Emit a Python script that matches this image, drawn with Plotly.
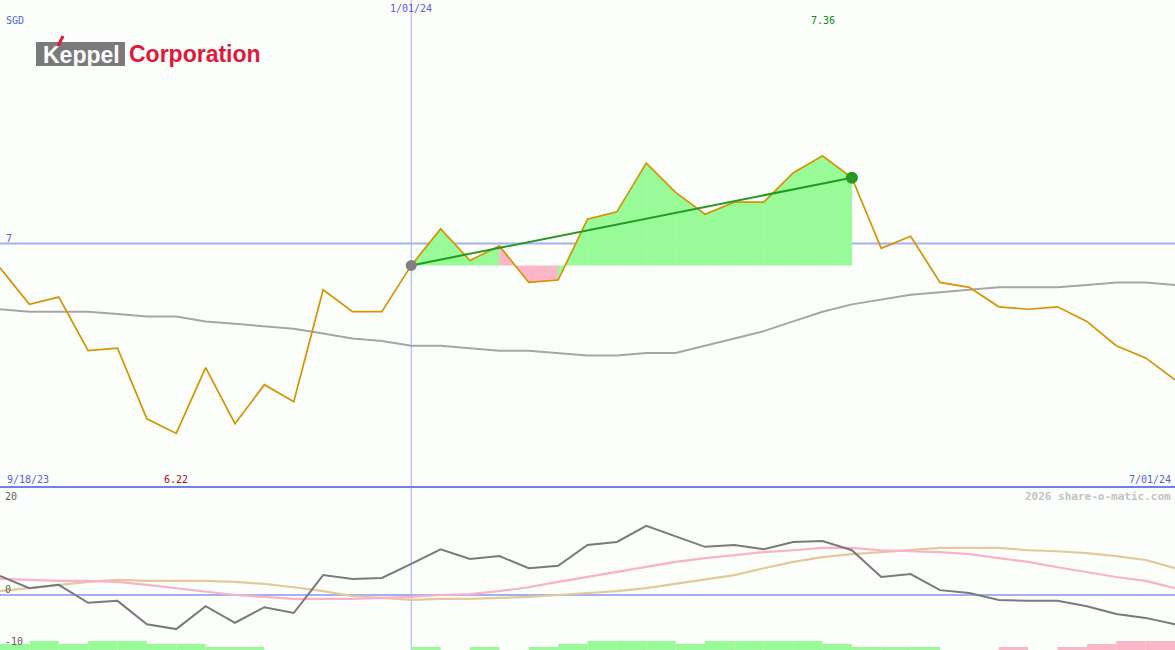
"""
Keppel Corporation weekly share price chart (share-o-matic style)
"""
import pandas as pd
import plotly.graph_objects as go

# weekly closes, SGD
weeks = pd.date_range("2023-09-25", periods=41, freq="7D")
price = [6.90, 6.75, 6.78, 6.56, 6.57, 6.28, 6.22, 6.49, 6.26, 6.42,
         6.35, 6.81, 6.72, 6.72, 6.91, 7.06, 6.93, 6.99, 6.84, 6.85,
         7.10, 7.13, 7.33, 7.21, 7.12, 7.17, 7.17, 7.29, 7.36, 7.27,
         6.98, 7.03, 6.84, 6.82, 6.74, 6.73, 6.74, 6.68, 6.58, 6.53,
         6.44]
# long moving average
price_ma = [6.73, 6.72, 6.72, 6.72, 6.71, 6.70, 6.70, 6.68, 6.67, 6.66,
            6.65, 6.63, 6.61, 6.60, 6.58, 6.58, 6.57, 6.56, 6.56, 6.55,
            6.54, 6.54, 6.55, 6.55, 6.58, 6.61, 6.64, 6.68, 6.72, 6.75,
            6.77, 6.79, 6.80, 6.81, 6.82, 6.82, 6.82, 6.83, 6.84, 6.84,
            6.83]

# lower panel oscillators
momentum = [3.9, 1.4, 2.1, -1.6, -1.2, -6.0, -7.0, -2.3, -5.7, -2.5,
            -3.7, 4.1, 3.3, 3.5, 6.4, 9.4, 7.4, 8.0, 5.5, 6.0,
            10.3, 10.9, 14.2, 12.1, 9.9, 10.3, 9.4, 10.9, 11.1, 9.2,
            3.7, 4.3, 1.0, 0.4, -1.0, -1.2, -1.2, -2.3, -3.9, -4.7,
            -6.0]
fast_avg = [3.3, 3.1, 2.9, 2.9, 2.7, 2.1, 1.4, 0.8, 0.0, -0.4,
            -0.8, -0.8, -0.8, -0.6, -0.4, 0.0, 0.2, 0.8, 1.6, 2.7,
            3.7, 4.7, 5.7, 6.8, 7.6, 8.2, 8.8, 9.2, 9.7, 9.7,
            9.2, 9.0, 8.8, 8.4, 7.6, 6.8, 5.7, 4.7, 3.7, 2.9,
            1.4]
slow_avg = [0.8, 1.4, 2.1, 2.7, 3.1, 2.9, 2.9, 2.9, 2.7, 2.3,
            1.6, 0.8, -0.2, -0.6, -1.0, -0.8, -0.8, -0.6, -0.4, 0.0,
            0.4, 0.8, 1.4, 2.3, 3.3, 4.1, 5.5, 6.8, 7.8, 8.4,
            8.8, 9.2, 9.7, 9.7, 9.7, 9.2, 9.0, 8.6, 8.0, 7.2,
            5.5]
# weekly signal strength (+ buy / - sell), one per week interval
signal = [2, 3, 2, 3, 3, 2, 2, 1, 1, 0,
          0, 0, 0, 0, 1, 0, 1, 0, 1, 2,
          3, 3, 3, 2, 3, 3, 3, 3, 2, 1,
          1, 1, 0, 0, -1, 0, -1, -2, -3, -3]

trend_start = 14   # 1/01/24
trend_end = 29
price_ref = 7.0
range_labels = ["9/18/23", "1/01/24", "7/01/24"]

BLUE = "#5060f0"
MONO = "DejaVu Sans Mono, Liberation Mono, monospace"
WEEK_MS = 7 * 24 * 3600 * 1000


def add_trend_fill(fig):
    """Shade each week between the price and the starting level"""
    base = price[trend_start]
    for i in range(trend_start, trend_end):
        color = "#98fb98" if price[i + 1] >= base else "#fbb6c8"
        fig.add_trace(go.Scatter(
            x=[weeks[i], weeks[i], weeks[i + 1], weeks[i + 1]],
            y=[base, price[i], price[i + 1], base],
            fill="toself", fillcolor=color, mode="lines",
            line=dict(color=color, width=0.5),
            hoverinfo="skip", showlegend=False, yaxis="y"))


def build_figure():
    fig = go.Figure()

    add_trend_fill(fig)

    fig.add_trace(go.Scatter(x=weeks, y=price_ma, mode="lines",
                             line=dict(color="#a6a6a6", width=2), yaxis="y"))
    fig.add_trace(go.Scatter(x=weeks, y=price, mode="lines",
                             line=dict(color="#d99200", width=1.7), yaxis="y"))

    # trend line between the two markers
    fig.add_trace(go.Scatter(
        x=[weeks[trend_start], weeks[trend_end]],
        y=[price[trend_start], price[trend_end]],
        mode="lines", line=dict(color="#249a24", width=2), yaxis="y"))
    fig.add_trace(go.Scatter(
        x=[weeks[trend_start]], y=[price[trend_start]], mode="markers",
        marker=dict(color="#808080", size=11), yaxis="y"))
    fig.add_trace(go.Scatter(
        x=[weeks[trend_end]], y=[price[trend_end]], mode="markers",
        marker=dict(color="#249a24", size=12), yaxis="y"))

    # signal bars along the bottom
    fig.add_trace(go.Bar(
        x=weeks[:-1], y=[abs(s) for s in signal], offset=0, width=WEEK_MS,
        marker=dict(color=["#98fb98" if s > 0 else "#fbb6c8" for s in signal],
                    line=dict(width=0)),
        yaxis="y3"))

    fig.add_trace(go.Scatter(x=weeks, y=slow_avg, mode="lines",
                             line=dict(color="#e2ca9a", width=2.2), yaxis="y2"))
    fig.add_trace(go.Scatter(x=weeks, y=fast_avg, mode="lines",
                             line=dict(color="#fbb2c8", width=2.2), yaxis="y2"))
    fig.add_trace(go.Scatter(x=weeks, y=momentum, mode="lines",
                             line=dict(color="#7a7a7a", width=2), yaxis="y2"))

    split = 1 - 487 / 650
    hidden = dict(showgrid=False, zeroline=False, showticklabels=False,
                  ticks="", showline=False, fixedrange=True)

    fig.update_layout(
        width=1175, height=650,
        margin=dict(l=0, r=0, t=0, b=0),
        paper_bgcolor="#fcfefc", plot_bgcolor="#fcfefc",
        showlegend=False, barmode="overlay",
        xaxis=dict(range=[weeks[0], weeks[-1]], **hidden),
        yaxis=dict(domain=[split, 1], range=[6.0, 8.0], **hidden),
        yaxis2=dict(domain=[0, split], range=[-11.3, 22.2], **hidden),
        yaxis3=dict(domain=[0, split], range=[0, 163 / 3], overlaying="y2",
                    **hidden),
    )

    # reference lines
    fig.add_shape(type="line", xref="paper", x0=0, x1=1, yref="y",
                  y0=price_ref, y1=price_ref,
                  line=dict(color="#a4b0f4", width=2), layer="below")
    fig.add_shape(type="line", xref="paper", x0=0, x1=1, yref="y2",
                  y0=0, y1=0, line=dict(color="#a4b0f4", width=2), layer="below")
    fig.add_shape(type="line", xref="x", x0=weeks[trend_start], x1=weeks[trend_start],
                  yref="paper", y0=0, y1=1,
                  line=dict(color="#a4b0f4", width=1), layer="below")
    fig.add_shape(type="line", xref="paper", x0=0, x1=1, yref="paper",
                  y0=split, y1=split, line=dict(color="#7080ee", width=2))

    def label(text, x, y, color, xref="paper", xanchor="left", size=10, **kw):
        fig.add_annotation(text=text, x=x, y=y, xref=xref, yref="paper",
                           xanchor=xanchor, yanchor="middle", showarrow=False,
                           font=dict(family=MONO, size=size, color=color), **kw)

    label("SGD", 4 / 1175, 1 - 20 / 650, BLUE)
    label(range_labels[1], weeks[trend_start], 1 - 9 / 650, BLUE, xref="x",
          xanchor="center")
    hi = price.index(max(price))
    lo = price.index(min(price))
    label(f"{max(price):.2f}", weeks[hi], 1 - 21 / 650, "#108a10", xref="x",
          xanchor="center")
    label(f"{price_ref:g}", 4 / 1175, 1 - 238 / 650, BLUE)
    label(range_labels[0], 5 / 1175, 1 - 479 / 650, BLUE)
    label(f"{min(price):.2f}", weeks[lo], 1 - 479 / 650, "#aa1010", xref="x",
          xanchor="center")
    label(range_labels[2], 1173 / 1175, 1 - 479 / 650, BLUE, xanchor="right")
    label("<b>2026 share-o-matic.com</b>", 1173 / 1175, 1 - 496 / 650,
          "#c4c4c4", xanchor="right", size=11)
    label("20", 3 / 1175, 1 - 496 / 650, "#606060")
    label("0", 3 / 1175, 1 - 589 / 650, "#606060")
    label("-10", 3 / 1175, 1 - 641 / 650, "#606060")

    # company logo
    fig.add_shape(type="rect", xref="paper", yref="paper",
                  x0=36 / 1175, x1=125 / 1175, y0=1 - 66 / 650, y1=1 - 42 / 650,
                  fillcolor="#7a7a7a", line=dict(width=0))
    fig.add_shape(type="line", xref="paper", yref="paper",
                  x0=58 / 1175, x1=63 / 1175, y0=1 - 46 / 650, y1=1 - 36 / 650,
                  line=dict(color="#e2173a", width=3))
    fig.add_annotation(text="<b>Keppel</b>", x=81 / 1175, y=1 - 55 / 650,
                       xref="paper", yref="paper", showarrow=False,
                       xanchor="center", yanchor="middle",
                       font=dict(family="Liberation Sans, Arial", size=23,
                                 color="white"))
    fig.add_annotation(text="<b>Corporation</b>", x=127 / 1175, y=1 - 54 / 650,
                       xref="paper", yref="paper", showarrow=False,
                       xanchor="left", yanchor="middle",
                       font=dict(family="Liberation Sans, Arial", size=23,
                                 color="#e2173a"))
    return fig


def main():
    fig = build_figure()
    # drop the page margin so the chart fills the window
    fig.write_html("out.html",
                   config={"displayModeBar": False},
                   post_script="document.body.style.margin='0';"
                               "document.body.style.overflow='hidden';")


if __name__ == "__main__":
    main()
